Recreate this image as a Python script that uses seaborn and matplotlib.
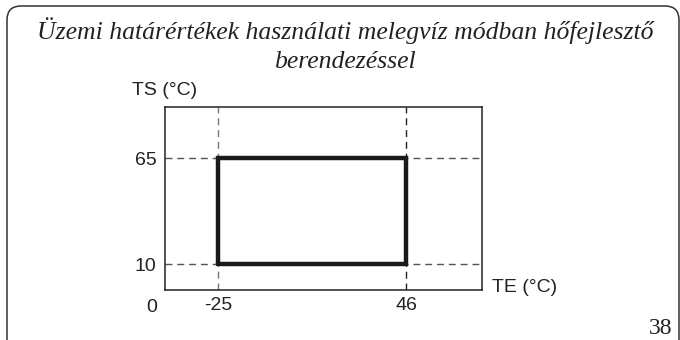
import matplotlib
matplotlib.use("Agg")
import matplotlib.pyplot as plt
import seaborn as sns
import pandas as pd
from matplotlib.patches import FancyBboxPatch
from matplotlib.transforms import IdentityTransform

# --- datos: límites de funcionamiento ---
te_limits = [-25, 46]   # TE (°C)
ts_limits = [10, 65]    # TS (°C)
title = "Üzemi határértékek használati melegvíz módban hőfejlesztő\nberendezéssel"
page_no = "38"

sns.set_style("white")
plt.rcParams['font.family'] = ['Liberation Sans', 'DejaVu Sans']
plt.rcParams['axes.unicode_minus'] = False

# rectángulo cerrado a partir de los límites
rect = pd.DataFrame({
    "TE": [te_limits[0], te_limits[1], te_limits[1], te_limits[0], te_limits[0]],
    "TS": [ts_limits[0], ts_limits[0], ts_limits[1], ts_limits[1], ts_limits[0]],
})

fig = plt.figure(figsize=(6.8, 3.4), dpi=100)
ax = fig.add_axes([0.2426, 0.147, 0.4662, 0.538])

# líneas guía discontinuas
ax.axvline(te_limits[0], color="#777777", lw=1, dashes=(5, 3.5), zorder=1)
ax.axvline(te_limits[1], color="#222222", lw=1, dashes=(5, 3.5), zorder=1)
for v in ts_limits:
    ax.axhline(v, color="#555555", lw=1, dashes=(5, 3.5), zorder=1)

sns.lineplot(data=rect, x="TE", y="TS", sort=False, estimator=None,
             color="#1a1a1a", lw=3.2, ax=ax, zorder=3)
ax.lines[-1].set_solid_joinstyle("miter")

ax.set_xlim(-45, 74.7)
ax.set_ylim(-3.5, 91.5)
ax.set_xticks(te_limits)
ax.set_yticks(ts_limits)
ax.tick_params(length=0, labelsize=14, colors="#222222")
ax.tick_params(axis="y", pad=6)
ax.tick_params(axis="x", pad=5)
ax.set_xlabel("")
ax.set_ylabel("")
for s in ax.spines.values():
    s.set_color("#222222")
    s.set_linewidth(1.1)

# etiquetas de ejes
fig.text(132 / 680, 1 - 91 / 340, "TS (°C)", fontsize=14, color="#222222",
         ha="left", va="center")
fig.text(492 / 680, 1 - 288 / 340, "TE (°C)", fontsize=14, color="#222222",
         ha="left", va="center")
fig.text(152 / 680, 1 - 307 / 340, "0", fontsize=14, color="#222222",
         ha="center", va="center")

# título y número de página
fig.text(345 / 680, 1 - 17 / 340, title, fontsize=18.5, style="italic",
         family="Liberation Serif", color="#222222", ha="center", va="top",
         linespacing=1.4)
fig.text(672 / 680, 1 - 328 / 340, page_no, fontsize=17,
         family="Liberation Serif", color="#222222", ha="right", va="center")

# marco redondeado
frame = FancyBboxPatch((7, -30), 672, 364, boxstyle="round,pad=0,rounding_size=14",
                       transform=IdentityTransform(), fill=False,
                       edgecolor="#333333", lw=1.1)
fig.patches.append(frame)

fig.savefig("out.png", dpi=100)
